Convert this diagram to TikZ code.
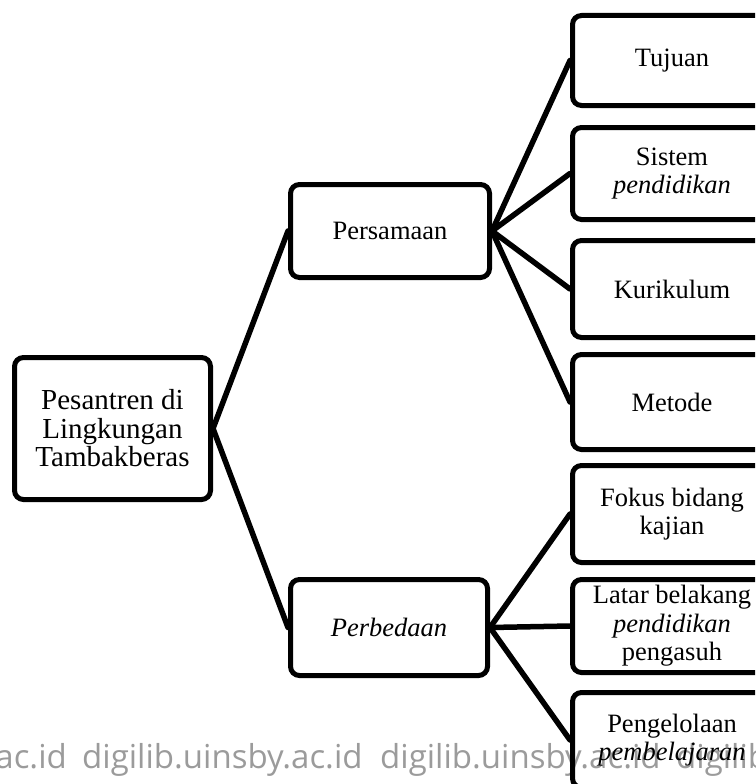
\documentclass[tikz,border=0pt]{standalone}
\usepackage{fontspec}
\setmainfont{Liberation Serif}
\newfontfamily\wmfont{Open Sans}
\definecolor{wmgray}{RGB}{155,155,155}
\begin{document}
\begin{tikzpicture}[x=1pt,y=-1pt,
  box/.style={draw, line width=5pt, rounded corners=9pt, align=center,
    inner sep=0pt, font=\fontsize{26.5}{28.5}\selectfont},
  link/.style={line width=5.5pt, line cap=round},
  wm/.style={anchor=base west, inner sep=0pt, text=wmgray,
    font=\wmfont\fontsize{33}{33}\selectfont}]
\clip (0,0) rectangle (755,784);
% watermark
\node[wm, anchor=base east] (w1) at (67,768) {digilib.uinsby.ac.id};
\node[wm] (w2) at (82,768) {digilib.uinsby.ac.id};
\node[wm] (w3) at (380,768) {digilib.uinsby.ac.id};
\node[wm] (w4) at (676,768) {digilib.uinsby.ac.id};
% boxes
\node[box, minimum width=196pt, minimum height=142pt,
  font=\fontsize{29}{28.5}\selectfont] (root) at (112.5,428.5)
  {Pesantren di\\Lingkungan\\Tambakberas};
\node[box, minimum width=199pt, minimum height=93pt] (psm) at (390,231) {Persamaan};
\node[box, minimum width=197pt, minimum height=96pt] (pbd) at (389,627.5) {\textit{Perbedaan}};
\node[box, minimum width=199pt, minimum height=90pt] (tuj) at (672,60.5) {Tujuan};
\node[box, minimum width=199pt, minimum height=92pt] (sis) at (672,173.5) {Sistem\\\textit{pendidikan}};
\node[box, minimum width=199pt, minimum height=97pt] (kur) at (672,289) {Kurikulum};
\node[box, minimum width=199pt, minimum height=95pt] (met) at (672,402) {Metode};
\node[box, minimum width=199pt, minimum height=97pt] (fok) at (672,514) {Fokus bidang\\kajian};
\node[box, minimum width=199pt, minimum height=93pt] (lat) at (672,626) {Latar belakang\\\textit{pendidikan}\\pengasuh};
\node[box, minimum width=199pt, minimum height=95pt] (pen) at (672,740) {Pengelolaan\\\textit{pembelajaran}};
% connectors
\draw[link] (psm.west) -- (root.east) -- (pbd.west);
\draw[link] (psm.east) -- (tuj.west);
\draw[link] (psm.east) -- (sis.west);
\draw[link] (psm.east) -- (kur.west);
\draw[link] (psm.east) -- (met.west);
\draw[link] (pbd.east) -- (fok.west);
\draw[link] (pbd.east) -- (lat.west);
\draw[link] (pbd.east) -- (pen.west);
\end{tikzpicture}
\end{document}
